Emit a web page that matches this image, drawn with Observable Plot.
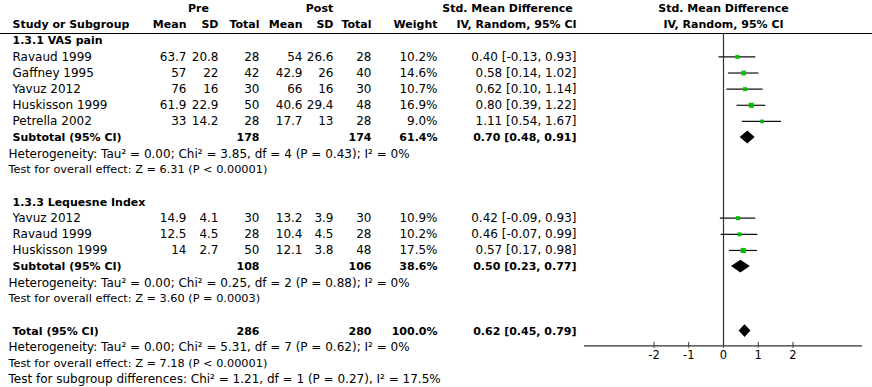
<!DOCTYPE html>
<html><head><meta charset="utf-8">
<script src="https://cdn.jsdelivr.net/npm/d3@7"></script>
<script src="https://cdn.jsdelivr.net/npm/@observablehq/plot@0.6"></script>
<style>html,body{margin:0;padding:0;background:#fff} svg{display:block}</style>
</head><body><div id="chart"></div>
<script>
// ---------- DATA ----------
const vasTitle = "1.3.1 VAS pain";
const vasStudies = ["Ravaud 1999", "Gaffney 1995", "Yavuz 2012", "Huskisson 1999", "Petrella 2002"];
const vasPreMean = [63.7, 57, 76, 61.9, 33];
const vasPreSD = [20.8, 22, 16, 22.9, 14.2];
const vasPreN = [28, 42, 30, 50, 28];
const vasPostMean = [54, 42.9, 66, 40.6, 17.7];
const vasPostSD = [26.6, 26, 16, 29.4, 13];
const vasPostN = [28, 40, 30, 48, 28];
const vasWeight = [10.2, 14.6, 10.7, 16.9, 9.0];
const vasSMD = [0.40, 0.58, 0.62, 0.80, 1.11];
const vasLo = [-0.13, 0.14, 0.10, 0.39, 0.54];
const vasHi = [0.93, 1.02, 1.14, 1.22, 1.67];

const leqTitle = "1.3.3 Lequesne Index";
const leqStudies = ["Yavuz 2012", "Ravaud 1999", "Huskisson 1999"];
const leqPreMean = [14.9, 12.5, 14];
const leqPreSD = [4.1, 4.5, 2.7];
const leqPreN = [30, 28, 50];
const leqPostMean = [13.2, 10.4, 12.1];
const leqPostSD = [3.9, 4.5, 3.8];
const leqPostN = [30, 28, 48];
const leqWeight = [10.9, 10.2, 17.5];
const leqSMD = [0.42, 0.46, 0.57];
const leqLo = [-0.09, -0.07, 0.17];
const leqHi = [0.93, 0.99, 0.98];

// subtotals: [VAS, Lequesne]
const subPreN = [178, 108];
const subPostN = [174, 106];
const subWeight = [61.4, 38.6];
const subSMD = [0.70, 0.50];
const subLo = [0.48, 0.23];
const subHi = [0.91, 0.77];
const subHet = [
  "Heterogeneity: Tau\u00B2 = 0.00; Chi\u00B2 = 3.85, df = 4 (P = 0.43); I\u00B2 = 0%",
  "Heterogeneity: Tau\u00B2 = 0.00; Chi\u00B2 = 0.25, df = 2 (P = 0.88); I\u00B2 = 0%"
];
const subTest = [
  "Test for overall effect: Z = 6.31 (P < 0.00001)",
  "Test for overall effect: Z = 3.60 (P = 0.0003)"
];

const totalPreN = 286, totalPostN = 280, totalWeight = 100.0;
const totalSMD = 0.62, totalLo = 0.45, totalHi = 0.79;
const totalHet = "Heterogeneity: Tau\u00B2 = 0.00; Chi\u00B2 = 5.31, df = 7 (P = 0.62); I\u00B2 = 0%";
const totalTest = "Test for overall effect: Z = 7.18 (P < 0.00001)";
const subgroupTest = "Test for subgroup differences: Chi\u00B2 = 1.21, df = 1 (P = 0.27), I\u00B2 = 17.5%";

const xDomain = [-4, 4];
const xTicks = [-2, -1, 0, 1, 2];
const xTickLabels = ["-2", "-1", "0", "1", "2"];

// ---------- LAYOUT (pixel offsets of table columns) ----------
const REG_SIZE = 12, BOLD_SIZE = 11;
const cols = {
  label:   {dx: 12,  anchor: "start"},
  note:    {dx: 8,   anchor: "start"},
  testNote:{dx: 8,   anchor: "start", size: 11.3},
  preHead: {dx: 198, anchor: "middle"},
  postHead:{dx: 319, anchor: "middle"},
  preMean: {dx: 186, anchor: "end"},
  preSD:   {dx: 218, anchor: "end"},
  preN:    {dx: 259, anchor: "end"},
  postMean:{dx: 302, anchor: "end"},
  postSD:  {dx: 333, anchor: "end"},
  postN:   {dx: 371, anchor: "end"},
  weight:  {dx: 437, anchor: "end"},
  ci:      {dx: 576, anchor: "end"},
  smdHead: {dx: 507, anchor: "middle"},
  smdHead2:{dx: 516, anchor: "middle"}
};

// ---------- BUILD TABLE ----------
const f2 = v => v.toFixed(2);
const ciText = (e, l, h) => `${f2(e)} [${f2(l)}, ${f2(h)}]`;
const pct = w => w.toFixed(1) + "%";

const items = [];    // {row, col, text, bold}
const forest = [];   // study estimates
const diamonds = []; // diamond polygons
const put = (row, col, text, bold = false) => items.push({row, col, text: String(text), bold});

put(0, "preHead", "Pre", true);
put(0, "postHead", "Post", true);
put(0, "smdHead", "Std. Mean Difference", true);
put(1, "label", "Study or Subgroup", true);
put(1, "preMean", "Mean", true);
put(1, "preSD", "SD", true);
put(1, "preN", "Total", true);
put(1, "postMean", "Mean", true);
put(1, "postSD", "SD", true);
put(1, "postN", "Total", true);
put(1, "weight", "Weight", true);
put(1, "smdHead2", "IV, Random, 95% CI", true);
const forestHeads = [
  {row: 0, text: "Std. Mean Difference"},
  {row: 1, text: "IV, Random, 95% CI"}
];

const groups = [
  {title: vasTitle, studies: vasStudies, preMean: vasPreMean, preSD: vasPreSD, preN: vasPreN,
   postMean: vasPostMean, postSD: vasPostSD, postN: vasPostN, weight: vasWeight, smd: vasSMD, lo: vasLo, hi: vasHi},
  {title: leqTitle, studies: leqStudies, preMean: leqPreMean, preSD: leqPreSD, preN: leqPreN,
   postMean: leqPostMean, postSD: leqPostSD, postN: leqPostN, weight: leqWeight, smd: leqSMD, lo: leqLo, hi: leqHi}
];

const addDiamond = (g, row, e, l, h) => {
  const hh = 0.4;
  diamonds.push({g, y: row - hh, x1: e, x2: e});
  diamonds.push({g, y: row, x1: l, x2: h});
  diamonds.push({g, y: row + hh, x1: e, x2: e});
};

let row = 2;
groups.forEach((g, gi) => {
  put(row, "label", g.title, true);
  row++;
  g.studies.forEach((s, i) => {
    put(row, "label", s);
    put(row, "preMean", g.preMean[i]);
    put(row, "preSD", g.preSD[i]);
    put(row, "preN", g.preN[i]);
    put(row, "postMean", g.postMean[i]);
    put(row, "postSD", g.postSD[i]);
    put(row, "postN", g.postN[i]);
    put(row, "weight", pct(g.weight[i]));
    put(row, "ci", ciText(g.smd[i], g.lo[i], g.hi[i]));
    forest.push({row, smd: g.smd[i], lo: g.lo[i], hi: g.hi[i], weight: g.weight[i]});
    row++;
  });
  put(row, "label", "Subtotal (95% CI)", true);
  put(row, "preN", subPreN[gi], true);
  put(row, "postN", subPostN[gi], true);
  put(row, "weight", pct(subWeight[gi]), true);
  put(row, "ci", ciText(subSMD[gi], subLo[gi], subHi[gi]), true);
  addDiamond("sub" + gi, row, subSMD[gi], subLo[gi], subHi[gi]);
  row++;
  put(row++, "note", subHet[gi]);
  put(row++, "testNote", subTest[gi]);
  row++; // blank line
});
const totalRow = row;
put(row, "label", "Total (95% CI)", true);
put(row, "preN", totalPreN, true);
put(row, "postN", totalPostN, true);
put(row, "weight", pct(totalWeight), true);
put(row, "ci", ciText(totalSMD, totalLo, totalHi), true);
addDiamond("total", row, totalSMD, totalLo, totalHi);
row++;
put(row++, "note", totalHet);
put(row++, "testNote", totalTest);
put(row++, "note", subgroupTest);
const lastRow = row - 1;

const headerLineRow = 1.55;
const axisRow = totalRow + 0.92;

// ---------- MARKS ----------
const FONT = "DejaVu Sans";
const textMarks = [];
for (const [key, c] of Object.entries(cols)) {
  for (const b of [false, true]) {
    const data = items.filter(d => d.col === key && d.bold === b);
    if (!data.length) continue;
    textMarks.push(Plot.text(data, {
      y: "row", text: "text", frameAnchor: "left", dx: c.dx,
      textAnchor: c.anchor, fontWeight: b ? "bold" : "normal",
      fontSize: c.size ?? (b ? BOLD_SIZE : REG_SIZE), fill: "#000"
    }));
  }
}

const chart = Plot.plot({
  width: 872,
  height: 387,
  marginTop: 0, marginBottom: 0, marginLeft: 0, marginRight: 0,
  style: {fontFamily: FONT, fontSize: "11px", background: "#fff", color: "#000"},
  x: {domain: xDomain, range: [584, 862], axis: null},
  y: {domain: [0, lastRow], range: [8, 379], axis: null},
  r: {domain: [0, 17.5], range: [0, 2.9]},
  marks: [
    Plot.ruleY([headerLineRow], {stroke: "#000", strokeWidth: 1.2}),
    Plot.ruleX([0], {y1: headerLineRow, y2: axisRow, stroke: "#333", strokeWidth: 1.2}),
    Plot.ruleY([axisRow], {x1: xDomain[0], x2: xDomain[1], stroke: "#333", strokeWidth: 1.2}),
    Plot.ruleX(xTicks, {y1: axisRow - 0.22, y2: axisRow + 0.14, stroke: "#333"}),
    Plot.text(xTicks, {x: d => d, y: axisRow + 0.55, text: (d, i) => xTickLabels[i], fontSize: 11.5, fill: "#000"}),
    Plot.ruleY(forest, {y: "row", x1: "lo", x2: "hi", stroke: "#111", strokeWidth: 1.2}),
    Plot.dot(forest, {x: "smd", y: "row", r: "weight", symbol: "square", fill: "#00c000", stroke: "none"}),
    Plot.areaX(diamonds, {y: "y", x1: "x1", x2: "x2", z: "g", fill: "#000", curve: "linear"}),
    Plot.text(forestHeads, {x: () => 0, y: "row", text: "text", fontWeight: "bold", fontSize: BOLD_SIZE, fill: "#000"}),
    ...textMarks
  ]
});
document.getElementById("chart").append(chart);
</script>
</body></html>
